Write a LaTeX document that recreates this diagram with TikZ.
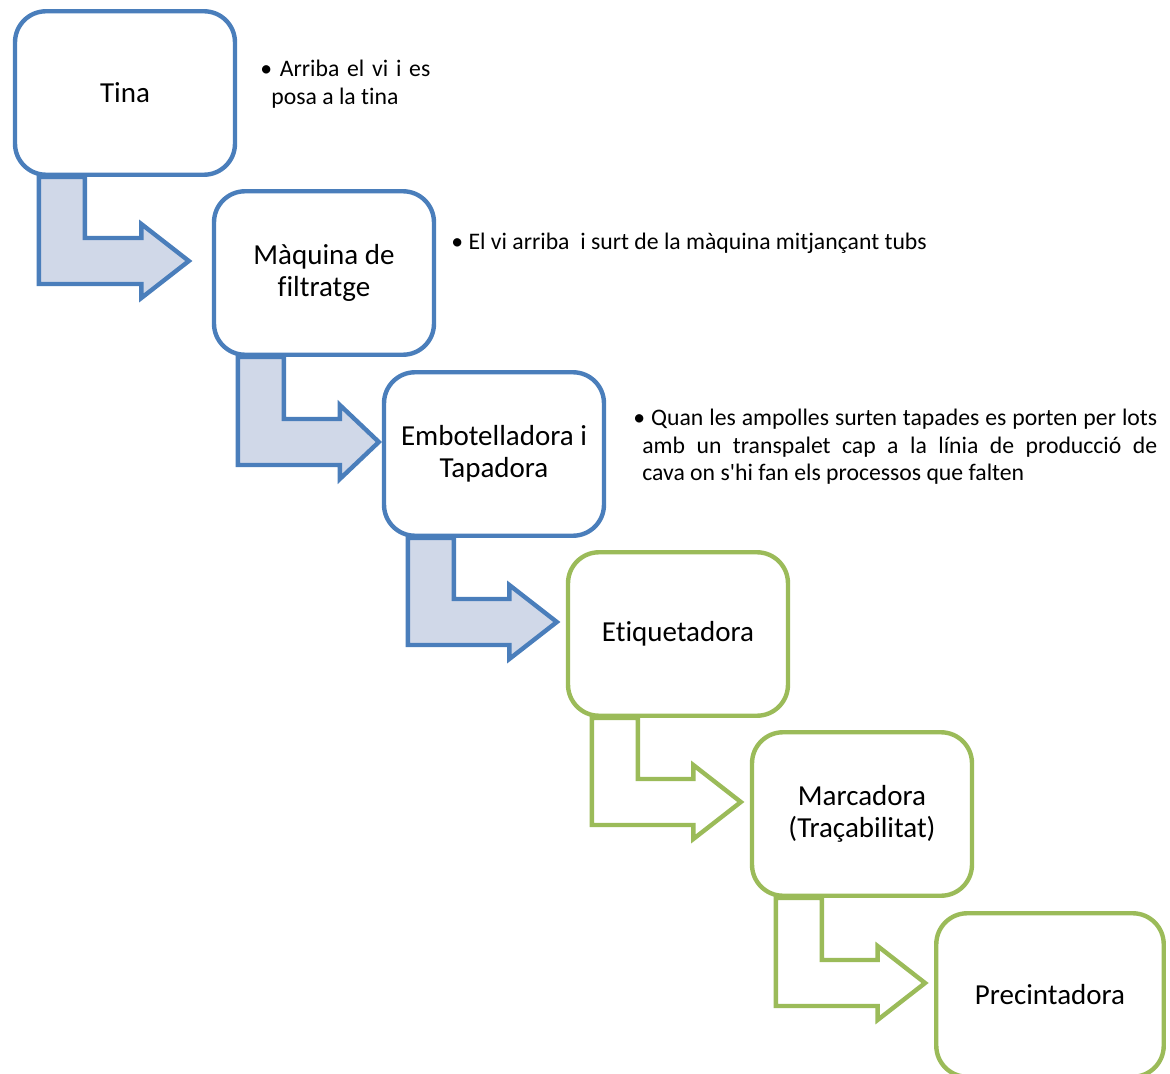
\documentclass[tikz,border=0pt]{standalone}
\usepackage{fontspec}
\setmainfont{Carlito}[Ligatures={TeX,NoCommon}]
\usetikzlibrary{calc, backgrounds}

\definecolor{flowblue}{HTML}{4A7EBB}
\definecolor{flowfill}{HTML}{D0D8E8}
\definecolor{flowgreen}{HTML}{9BBB59}

% bent arrow: #1 style, #2 from box, #3 to box, #4 gap, #5 head length
\newcommand{\bentarrow}[5]{%
  \draw[#1] let \p1=($(#2.south west)+(0.52cm,0)$), \p2=($(#3.west)+(-#4,0.24cm)$) in
    (\x1,\y1) -- (\x1+0.92cm,\y1) -- (\x1+0.92cm,\y2+0.46cm)
    -- (\x2-#5,\y2+0.46cm) -- (\x2-#5,\y2+0.74cm) -- (\x2,\y2)
    -- (\x2-#5,\y2-0.74cm) -- (\x2-#5,\y2-0.46cm) -- (\x1,\y2-0.46cm) -- cycle;}

\begin{document}
\begin{tikzpicture}[x=0.02cm, y=-0.02cm,
  stepbox/.style={draw, line width=2.5pt, rounded corners=0.62cm, fill=white,
                  minimum width=4.4cm, minimum height=3.27cm, align=center,
                  font=\fontsize{16.5}{18.5}\selectfont},
  bluebox/.style={stepbox, draw=flowblue},
  greenbox/.style={stepbox, draw=flowgreen},
  bluearr/.style={draw=flowblue, fill=flowfill, line width=2.5pt},
  greenarr/.style={draw=flowgreen, fill=white, line width=2.5pt},
  note/.style={inner sep=0pt, anchor=base west, font=\fontsize{13.5}{15.5}\selectfont},
]
\useasboundingbox (0,0) rectangle (1170,1074);

% Process steps
\node[bluebox] (tina) at (125,93) {Tina};
\node[bluebox] (filtre) at (324,273) {Màquina de\\filtratge};
\node[bluebox] (embot) at (494,454) {Embotelladora i\\Tapadora};
\node[greenbox] (etiq) at (678,634) {Etiquetadora};
\node[greenbox] (marca) at (862,814) {Marcadora\\(Traçabilitat)};
\node[greenbox, minimum width=4.55cm] (precint) at (1050,995) {Precintadora};

% Notes
\node[note, text width=3.18cm, align=justify] (ntina) at (271,77)
  {\hspace*{-0.22cm}\textbullet\ Arriba el vi i es\linebreak posa a la tina};
\node[note] (nfiltre) at (451,250)
  {\textbullet\ El vi arriba\ \ i surt de la màquina mitjançant tubs};
\node[note, text width=10.3cm, align=justify] (nembot) at (642,426)
  {\hspace*{-0.18cm}\textbullet\ Quan les ampolles surten tapades es porten per lots\linebreak
   amb un transpalet cap a la línia de producció de\linebreak
   cava on s\textquotesingle hi fan els processos que falten};

% Arrows
\begin{scope}[on background layer]
  \bentarrow{bluearr}{tina}{filtre}{0.46cm}{0.95cm}
  \bentarrow{bluearr}{filtre}{embot}{0.06cm}{0.78cm}
  \bentarrow{bluearr}{embot}{etiq}{0.18cm}{0.95cm}
  \bentarrow{greenarr}{etiq}{marca}{0.18cm}{0.95cm}
  \bentarrow{greenarr}{marca}{precint}{0.18cm}{0.95cm}
\end{scope}

\end{tikzpicture}
\end{document}
